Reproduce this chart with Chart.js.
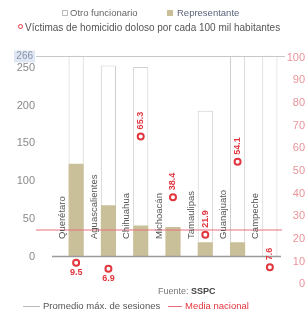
<!DOCTYPE html>
<html>
<head>
<meta charset="utf-8">
<script src="https://cdn.jsdelivr.net/npm/chart.js@4.4.1/dist/chart.umd.min.js"></script>
<style>
    body { margin: 0; background: #fff; font-family: "Liberation Sans", Arial, sans-serif; }
    #wrap { position: relative; width: 305px; height: 316px; overflow: hidden; }
    #chart { position: absolute; left: 0; top: 0; }
    .txt { position: absolute; white-space: nowrap; font-size: 9.5px; line-height: 12px; color: #666; }
    .sw { position: absolute; }
</style>
</head>
<body>
<div id="wrap">
    <canvas id="chart" width="305" height="316"></canvas>

    <!-- top legend -->
    <div class="sw" style="left:62px;top:10px;width:4px;height:4px;border:1px solid #bbb;background:#fff;"></div>
    <div class="txt" style="left:70px;top:7px;">Otro funcionario</div>
    <div class="sw" style="left:167px;top:10px;width:6px;height:6px;background:#c9bf98;"></div>
    <div class="txt" style="left:177px;top:7px;color:#5a6478;">Representante</div>
    <div class="sw" style="left:18px;top:24px;width:3px;height:3px;border:1.5px solid #e2363f;border-radius:50%;"></div>
    <div class="txt" style="left:25px;top:22px;color:#555;font-size:10px;">Víctimas de homicidio doloso por cada 100 mil habitantes</div>

    <!-- source -->
    <div class="txt" style="left:158px;top:285px;font-size:9px;color:#777;">Fuente: <b style="color:#444;">SSPC</b></div>

    <!-- bottom legend -->
    <div class="sw" style="left:23px;top:306px;width:17px;height:1px;background:#bbb;"></div>
    <div class="txt" style="left:43px;top:300px;color:#555;">Promedio máx. de sesiones</div>
    <div class="sw" style="left:168px;top:306px;width:14px;height:1px;background:#e8707c;"></div>
    <div class="txt" style="left:185px;top:300px;color:#e2363f;">Media nacional</div>
</div>

<script>
// states
const states = ['Querétaro', 'Aguascalientes', 'Chihuahua', 'Michoacán', 'Tamaulipas', 'Guanajuato', 'Campeche'];

// sessions (left axis)
const representante = [123, 68, 41, 39, 19, 19, 0];
const otroFuncionario = [143, 185, 210, 0, 174, 247, 266];

// homicide victims per 100k (right axis)
const victimas = [9.5, 6.9, 65.3, 38.4, 21.9, 54.1, 7.6];
const victimasLabels = ['9.5', '6.9', '65.3', '38.4', '21.9', '54.1', '7.6'];
const labelBelow = [true, true, false, false, false, false, false];

const promedioMax = 266;   // left axis
const mediaNacional = 24;  // right axis

const leftTicks = [0, 50, 100, 150, 200, 250];
const rightTicks = [0, 10, 20, 30, 40, 50, 60, 70, 80, 90, 100];

const RED = '#e2363f';
const FONT = '"Liberation Sans", Arial, sans-serif';

const overlay = {
    id: 'overlay',
    afterDatasetsDraw(chart) {
        const { ctx, scales } = chart;
        const x = scales.x, y = scales.y, y2 = scales.y2;
        ctx.save();

        // promedio line + label
        const yp = Math.round(y.getPixelForValue(promedioMax)) + 0.5;
        ctx.strokeStyle = '#c8c8c8';
        ctx.lineWidth = 1;
        ctx.beginPath(); ctx.moveTo(36, yp); ctx.lineTo(285, yp); ctx.stroke();
        ctx.fillStyle = '#dfe7f4';
        ctx.fillRect(14, yp - 6, 21, 12);
        ctx.fillStyle = '#8a93a8';
        ctx.font = '10px ' + FONT;
        ctx.textAlign = 'right';
        ctx.textBaseline = 'middle';
        ctx.fillText(String(promedioMax), 33, yp);

        // baseline
        const y0 = y.getPixelForValue(0);
        ctx.strokeStyle = '#9a9a9a';
        ctx.lineWidth = 1.5;
        ctx.beginPath(); ctx.moveTo(52, y0); ctx.lineTo(281, y0); ctx.stroke();

        // media nacional
        const ym = y2.getPixelForValue(mediaNacional);
        ctx.strokeStyle = '#e8707c';
        ctx.lineWidth = 1.2;
        ctx.beginPath(); ctx.moveTo(36, ym); ctx.lineTo(282, ym); ctx.stroke();

        // state names, rotated
        ctx.fillStyle = '#555';
        ctx.font = '9.5px ' + FONT;
        ctx.textAlign = 'left';
        ctx.textBaseline = 'middle';
        states.forEach((s, i) => {
            const px = x.getPixelForValue(i) - 14;
            ctx.save();
            ctx.translate(px, 239);
            ctx.rotate(-Math.PI / 2);
            ctx.fillText(s, 0, 0);
            ctx.restore();
        });

        // victim value labels
        ctx.fillStyle = RED;
        ctx.font = 'bold 9px ' + FONT;
        victimas.forEach((v, i) => {
            const px = x.getPixelForValue(i);
            const py = y2.getPixelForValue(v);
            if (labelBelow[i]) {
                ctx.textAlign = 'center';
                ctx.textBaseline = 'middle';
                ctx.fillText(victimasLabels[i], px, py + 10);
            } else {
                ctx.save();
                ctx.translate(px, py - 7);
                ctx.rotate(-Math.PI / 2);
                ctx.textAlign = 'left';
                ctx.textBaseline = 'middle';
                ctx.fillText(victimasLabels[i], 0, 0);
                ctx.restore();
            }
        });

        ctx.restore();
    }
};

new Chart(document.getElementById('chart'), {
    type: 'bar',
    data: {
        labels: states,
        datasets: [
            {
                label: 'Víctimas',
                type: 'line',
                data: victimas,
                yAxisID: 'y2',
                showLine: false,
                pointRadius: 3,
                pointBorderWidth: 2,
                pointBorderColor: RED,
                pointBackgroundColor: '#fff',
                order: 0
            },
            {
                label: 'Representante',
                data: representante,
                yAxisID: 'y',
                stack: 's',
                backgroundColor: '#c9bf98',
                borderWidth: 0,
                order: 2
            },
            {
                label: 'Otro funcionario',
                data: otroFuncionario,
                yAxisID: 'y',
                stack: 's',
                backgroundColor: '#ffffff',
                borderColor: '#cfcfcf',
                borderWidth: 1,
                order: 2
            }
        ]
    },
    options: {
        responsive: false,
        animation: false,
        layout: { padding: { left: 0, right: 0, top: 55, bottom: 14 } },
        datasets: { bar: { categoryPercentage: 1, barPercentage: 0.47 } },
        plugins: {
            legend: { display: false },
            tooltip: { enabled: false }
        },
        scales: {
            x: { display: false, stacked: true },
            y: {
                position: 'left',
                stacked: true,
                min: -37,
                max: 267,
                afterBuildTicks: s => { s.ticks = leftTicks.map(v => ({ value: v })); },
                afterFit: s => { s.width = 60; },
                grid: { display: false, drawTicks: false },
                border: { display: false },
                ticks: { color: '#8a8a8a', padding: 25, font: { family: FONT, size: 11 } }
            },
            y2: {
                position: 'right',
                min: 0,
                max: 101.2,
                afterBuildTicks: s => { s.ticks = rightTicks.map(v => ({ value: v })); },
                afterFit: s => { s.width = 19; },
                grid: { display: false, drawTicks: false },
                border: { display: false },
                ticks: { color: '#e8949a', padding: -8, crossAlign: 'far', font: { family: FONT, size: 11 } }
            }
        }
    },
    plugins: [overlay]
});
</script>
</body>
</html>
